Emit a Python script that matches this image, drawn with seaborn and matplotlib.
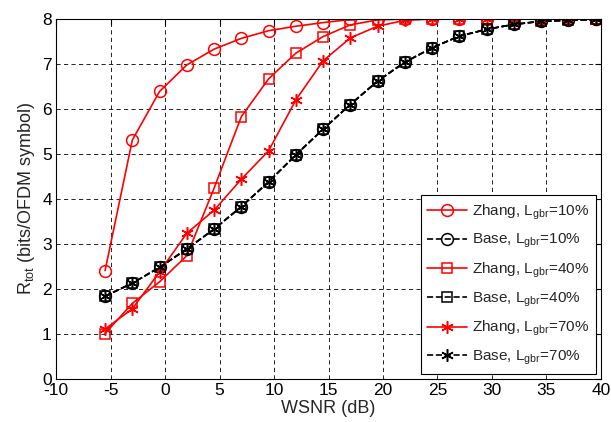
import numpy as np
import pandas as pd
import matplotlib
matplotlib.use("Agg")
import matplotlib.pyplot as plt
import seaborn as sns

# --- data ---
wsnr = [-5.5, -3, -0.5, 2, 4.5, 7, 9.5, 12, 14.5, 17, 19.5, 22, 24.5, 27, 29.5, 32, 34.5, 37, 39.5]

zhang_10 = [2.40, 5.30, 6.38, 6.97, 7.32, 7.56, 7.73, 7.83, 7.91, 7.98, 8.0, 8.0, 8.0, 8.0, 8.0, 8.0, 8.0, 8.0, 8.0]
zhang_40 = [1.00, 1.67, 2.15, 2.73, 4.23, 5.82, 6.66, 7.23, 7.60, 7.86, 7.97, 7.99, 8.0, 8.0, 8.0, 8.0, 8.0, 8.0, 8.0]
zhang_70 = [1.10, 1.55, 2.37, 3.23, 3.74, 4.43, 5.06, 6.19, 7.06, 7.57, 7.83, 7.96, 7.99, 8.0, 8.0, 8.0, 8.0, 8.0, 8.0]
base = [1.83, 2.12, 2.47, 2.88, 3.32, 3.82, 4.37, 4.97, 5.54, 6.09, 6.61, 7.03, 7.35, 7.61, 7.76, 7.87, 7.94, 7.96, 7.98]

labels = ["Zhang, $L_{gbr}$=10%", "Base, $L_{gbr}$=10%",
          "Zhang, $L_{gbr}$=40%", "Base, $L_{gbr}$=40%",
          "Zhang, $L_{gbr}$=70%", "Base, $L_{gbr}$=70%"]
series = [zhang_10, base, zhang_40, base, zhang_70, base]
colors = ["red", "black", "red", "black", "red", "black"]
# matlab style asterisk = 6 arm star
markers = ["o", "o", "s", "s", (6, 2, 0), (6, 2, 0)]
msizes = [8.5, 8.5, 7, 7, 9, 9]
styles = ["-", "--", "-", "--", "-", "--"]

x_ticks = list(range(-10, 45, 5))
y_ticks = list(range(0, 9))

sns.set_style("white")
plt.rcParams['font.family'] = ['Liberation Sans', 'DejaVu Sans']
plt.rcParams['mathtext.default'] = 'regular'
plt.rcParams['axes.unicode_minus'] = False

fig = plt.figure(figsize=(6.11, 4.22), dpi=100)
ax = fig.add_axes([0.0917, 0.103, 0.8919, 0.853])

for lab, ys, c, m, ms, ls in zip(labels, series, colors, markers, msizes, styles):
    df = pd.DataFrame({"x": wsnr, "y": ys})
    sns.lineplot(data=df, x="x", y="y", ax=ax, color=c, marker=m, markersize=ms,
                 markerfacecolor="none", markeredgecolor=c, markeredgewidth=1.1,
                 linestyle=ls, linewidth=1.2, label=lab, estimator=None, sort=False)

ax.set_xlim(-10, 40)
ax.set_ylim(0, 8)
ax.set_xticks(x_ticks)
ax.set_yticks(y_ticks)
ax.grid(True, color="black", linestyle=(0, (5, 4)), linewidth=0.6)
ax.tick_params(direction="in", top=True, right=True, length=4, labelsize=12.5,
               colors="black", pad=3)
for sp in ax.spines.values():
    sp.set_color("black")
    sp.set_linewidth(0.8)

ax.set_xlabel("WSNR (dB)", fontsize=13, labelpad=2)
ax.set_ylabel("$R_{tot}$ (bits/OFDM symbol)", fontsize=13, labelpad=4)

leg = ax.legend(loc="lower right", fontsize=11, frameon=True, fancybox=False,
                edgecolor="black", framealpha=1, handlelength=2.6, borderaxespad=0.3,
                labelspacing=0.68, handletextpad=0.35, borderpad=0.45)
leg.get_frame().set_linewidth(0.8)

plt.savefig("out.png", dpi=100)
